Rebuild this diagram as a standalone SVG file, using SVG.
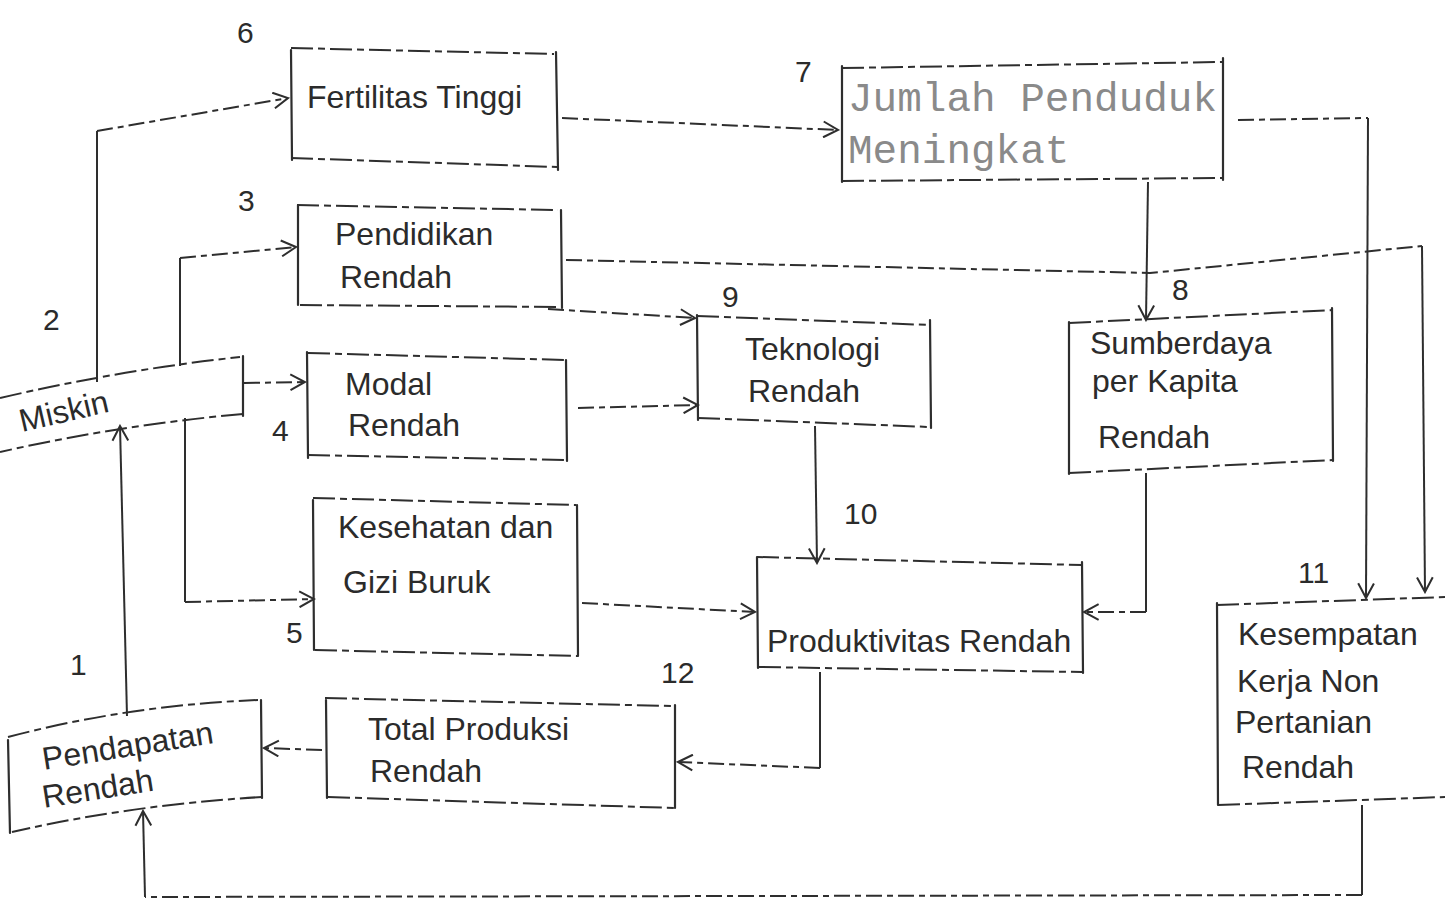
<svg xmlns="http://www.w3.org/2000/svg" width="1453" height="907" viewBox="0 0 1453 907">
<style>
  .bg{fill:#fff}
  .side{stroke:#2e2e2e;stroke-width:2.2;fill:none;stroke-linecap:round}
  .edge{stroke:#2e2e2e;stroke-width:2;fill:none;stroke-dasharray:22 5 7 5}
  .solid{stroke:#2e2e2e;stroke-width:2;fill:none}
  .dash{stroke:#2e2e2e;stroke-width:2;fill:none;stroke-dasharray:16 5 6 5}
  .t{font-family:"Liberation Sans",Arial,sans-serif;font-size:32px;fill:#2b2b2b}
  .num{font-family:"Liberation Sans",Arial,sans-serif;font-size:30px;fill:#2b2b2b}
  .mono{font-family:"Liberation Mono","Courier New",monospace;font-size:41px;fill:#8a8a8a}
</style>
<defs>
  <marker id="arr" viewBox="0 0 16 16" refX="14" refY="8" markerWidth="18" markerHeight="18" markerUnits="userSpaceOnUse" orient="auto">
    <path d="M1,1 L14,8 L1,15" fill="none" stroke="#2e2e2e" stroke-width="1.8"/>
  </marker>
</defs>
<rect class="bg" x="0" y="0" width="1453" height="907"/>

<g id="connectors">
  <path class="solid" d="M97,382 L97,131"/>
  <path class="dash" d="M97,131 L288,98" marker-end="url(#arr)"/>
  <path class="solid" d="M180,366 L180,258"/>
  <path class="dash" d="M180,258 L296,247" marker-end="url(#arr)"/>
  <path class="dash" d="M244,383 L305,382" marker-end="url(#arr)"/>
  <path class="solid" d="M185,418 L185,602"/>
  <path class="dash" d="M185,602 L314,599" marker-end="url(#arr)"/>
  <path class="solid" d="M127,716 L120,426" marker-end="url(#arr)"/>
  <path class="dash" d="M562,118 L838,130" marker-end="url(#arr)"/>
  <path class="solid" d="M1148,182 L1146,320" marker-end="url(#arr)"/>
  <path class="dash" d="M1238,120 L1368,118"/>
  <path class="solid" d="M1368,118 L1366,598" marker-end="url(#arr)"/>
  <path class="dash" d="M566,260 L1150,273 L1422,246"/>
  <path class="solid" d="M1422,246 L1425,592" marker-end="url(#arr)"/>
  <path class="dash" d="M548,309 L695,318" marker-end="url(#arr)"/>
  <path class="dash" d="M578,408 L698,405" marker-end="url(#arr)"/>
  <path class="solid" d="M815,426 L817,563" marker-end="url(#arr)"/>
  <path class="solid" d="M1146,473 L1146,612"/>
  <path class="dash" d="M1146,612 L1084,612" marker-end="url(#arr)"/>
  <path class="dash" d="M582,603 L755,612" marker-end="url(#arr)"/>
  <path class="solid" d="M820,672 L820,768"/>
  <path class="dash" d="M820,768 L678,762" marker-end="url(#arr)"/>
  <path class="dash" d="M322,750 L264,748" marker-end="url(#arr)"/>
  <path class="solid" d="M1362,805 L1362,895"/>
  <path class="dash" d="M1362,895 L145,897"/>
  <path class="solid" d="M145,897 L143,811" marker-end="url(#arr)"/>
</g>

<g id="n6">
  <path class="edge" d="M291,48 L554,54"/>
  <path class="edge" d="M291,158 L557,167"/>
  <path class="side" d="M291,50 L292,160"/>
  <path class="side" d="M556,52 L558,170"/>
  <text class="num" x="237" y="43">6</text>
  <text class="t" x="307" y="108" font-size="33">Fertilitas Tinggi</text>
</g>

<g id="n7">
  <path class="edge" d="M842,68 L1222,62"/>
  <path class="edge" d="M842,181 L1222,178"/>
  <path class="side" d="M842,66 L842,182"/>
  <path class="side" d="M1223,58 L1223,180"/>
  <text class="num" x="795" y="82">7</text>
  <text class="mono" x="848" y="111">Jumlah Penduduk</text>
  <text class="mono" x="848" y="163">Meningkat</text>
</g>

<g id="n3">
  <path class="edge" d="M297,205 L558,210"/>
  <path class="edge" d="M300,305 L562,307"/>
  <path class="side" d="M298,205 L298,305"/>
  <path class="side" d="M561,210 L562,308"/>
  <text class="num" x="238" y="211">3</text>
  <text class="t" x="335" y="245">Pendidikan</text>
  <text class="t" x="340" y="288">Rendah</text>
</g>

<g id="n2">
  <path class="edge" d="M0,398 Q120,370 240,357"/>
  <path class="edge" d="M243,414 Q120,425 0,452"/>
  <path class="side" d="M243,356 L243,416"/>
  <text class="num" x="43" y="330">2</text>
  <text class="t" x="22" y="432" font-size="29" transform="rotate(-13 22 432)">Miskin</text>
</g>

<g id="n4">
  <path class="edge" d="M308,353 L566,360"/>
  <path class="edge" d="M308,455 L566,460"/>
  <path class="side" d="M307,352 L308,458"/>
  <path class="side" d="M566,360 L567,461"/>
  <text class="num" x="272" y="441">4</text>
  <text class="t" x="345" y="395">Modal</text>
  <text class="t" x="348" y="436">Rendah</text>
</g>

<g id="n5">
  <path class="edge" d="M313,498 L576,505"/>
  <path class="edge" d="M315,650 L578,656"/>
  <path class="side" d="M313,500 L314,650"/>
  <path class="side" d="M577,505 L578,656"/>
  <text class="num" x="286" y="643">5</text>
  <text class="t" x="338" y="538">Kesehatan dan</text>
  <text class="t" x="343" y="593">Gizi Buruk</text>
</g>

<g id="n9">
  <path class="edge" d="M697,316 L930,325"/>
  <path class="edge" d="M698,418 L930,427"/>
  <path class="side" d="M697,315 L698,420"/>
  <path class="side" d="M930,320 L931,428"/>
  <text class="num" x="722" y="307">9</text>
  <text class="t" x="745" y="360">Teknologi</text>
  <text class="t" x="748" y="402">Rendah</text>
</g>

<g id="n8">
  <path class="edge" d="M1069,323 L1333,310"/>
  <path class="edge" d="M1069,473 L1333,460"/>
  <path class="side" d="M1069,322 L1069,474"/>
  <path class="side" d="M1332,308 L1333,461"/>
  <text class="num" x="1172" y="300">8</text>
  <text class="t" x="1090" y="354">Sumberdaya</text>
  <text class="t" x="1092" y="392">per Kapita</text>
  <text class="t" x="1098" y="448">Rendah</text>
</g>

<g id="n10">
  <path class="edge" d="M757,557 L1082,565"/>
  <path class="edge" d="M759,667 L1082,672"/>
  <path class="side" d="M757,557 L758,668"/>
  <path class="side" d="M1082,562 L1083,673"/>
  <text class="num" x="844" y="524">10</text>
  <text class="t" x="767" y="652">Produktivitas Rendah</text>
</g>

<g id="n11">
  <path class="edge" d="M1217,605 L1445,597"/>
  <path class="edge" d="M1218,805 L1445,797"/>
  <path class="side" d="M1217,603 L1218,805"/>
  <text class="num" x="1298" y="583">11</text>
  <text class="t" x="1238" y="645">Kesempatan</text>
  <text class="t" x="1237" y="692">Kerja Non</text>
  <text class="t" x="1235" y="733">Pertanian</text>
  <text class="t" x="1242" y="778">Rendah</text>
</g>

<g id="n12">
  <path class="edge" d="M325,698 L673,706"/>
  <path class="edge" d="M328,797 L675,808"/>
  <path class="side" d="M326,700 L327,798"/>
  <path class="side" d="M675,705 L675,808"/>
  <text class="num" x="661" y="683">12</text>
  <text class="t" x="368" y="740">Total Produksi</text>
  <text class="t" x="370" y="782">Rendah</text>
</g>

<g id="n1">
  <path class="edge" d="M8,737 Q130,705 258,700"/>
  <path class="edge" d="M262,797 Q130,805 12,832"/>
  <path class="side" d="M8,740 L10,833"/>
  <path class="side" d="M261,700 L262,798"/>
  <text class="num" x="70" y="675">1</text>
  <text class="t" x="44" y="770" font-size="30" transform="rotate(-9 44 770)">Pendapatan</text>
  <text class="t" x="44" y="808" font-size="30" transform="rotate(-9 44 808)">Rendah</text>
</g>
</svg>
